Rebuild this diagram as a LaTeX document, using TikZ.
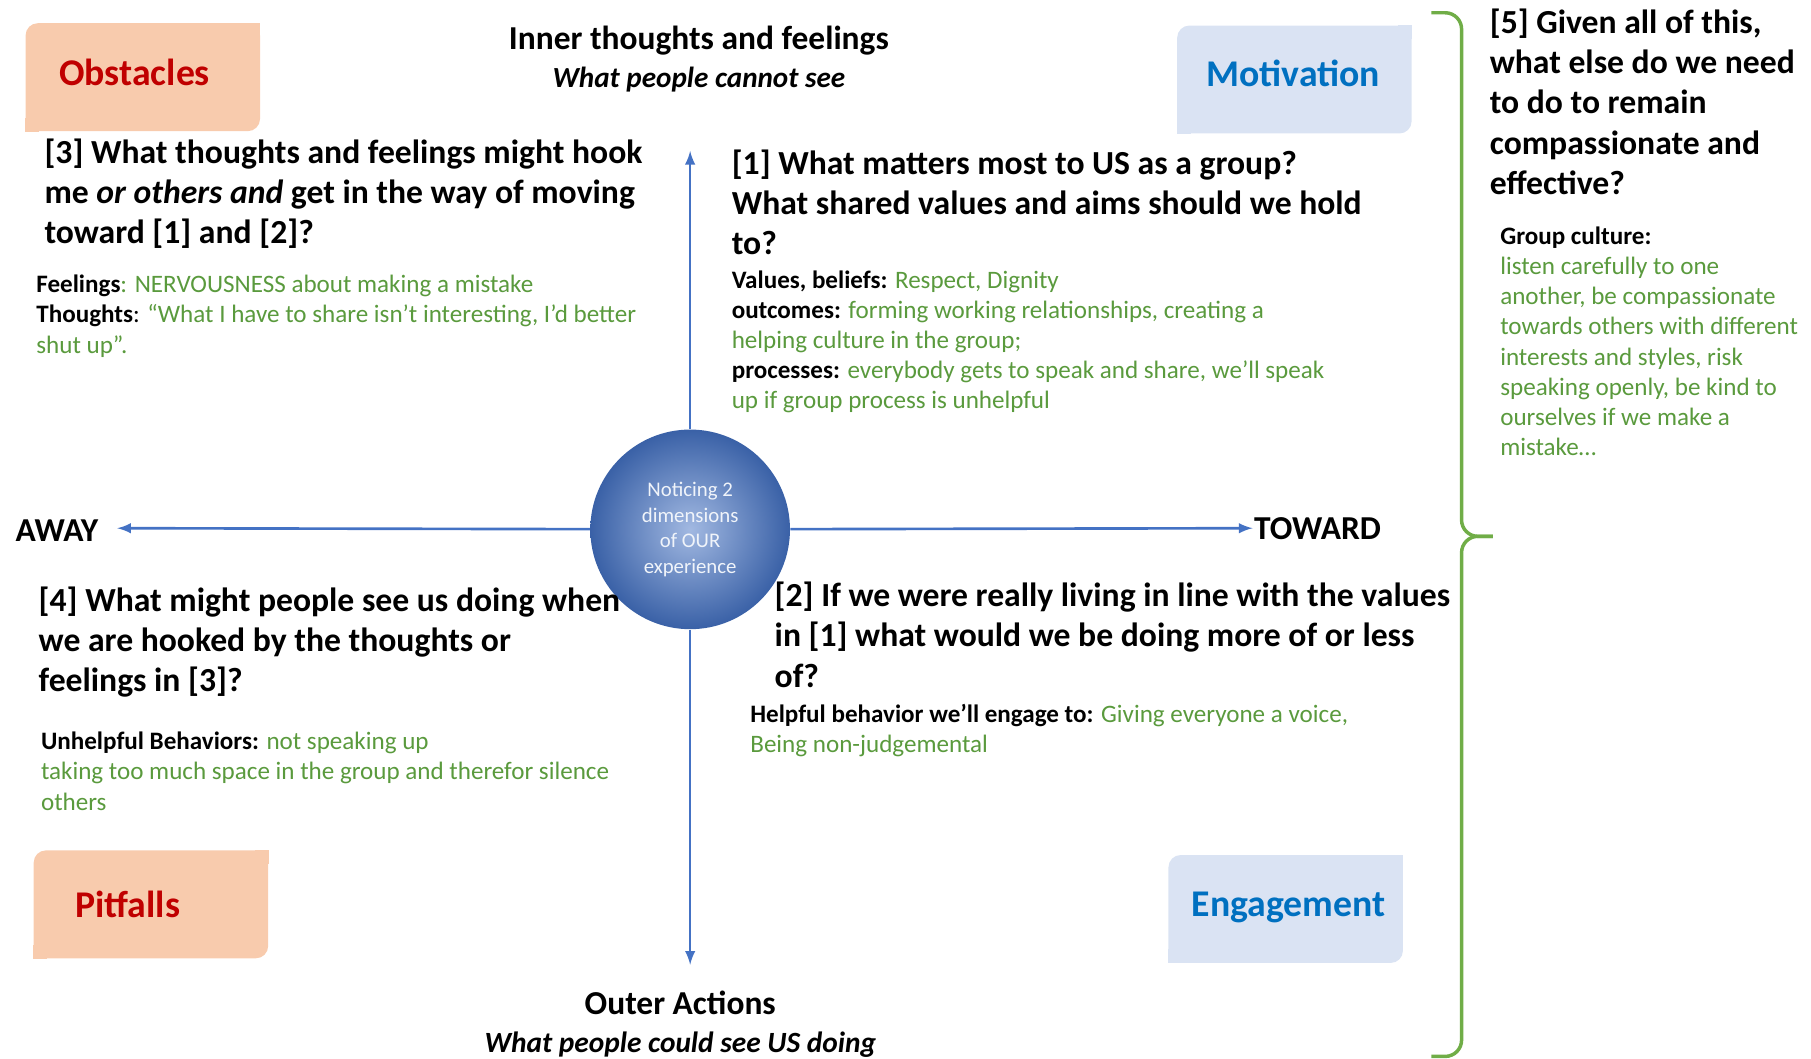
\documentclass[tikz,border=0pt]{standalone}
\usepackage{fontspec}
\setmainfont{Carlito}
\usepackage{tikz}

\definecolor{peach}{HTML}{F8CBAD}
\definecolor{paleblue}{HTML}{DAE3F3}
\definecolor{scarlet}{HTML}{C00000}
\definecolor{ink}{HTML}{0070C0}
\definecolor{axisblue}{HTML}{4472C4}
\definecolor{leaf}{HTML}{5A9A3D}
\definecolor{bracegreen}{HTML}{70AD47}
\newcommand{\gr}[1]{\textcolor{leaf}{#1}}

\begin{document}
\begin{tikzpicture}[x=0.02cm, y=-0.02cm,
  question/.style={anchor=north west, align=left, inner sep=0, font=\bfseries\fontsize{16.5}{19.8}\selectfont},
  answer/.style={anchor=north west, align=left, inner sep=0, font=\fontsize{12.3}{14.9}\selectfont},
  corner/.style={rounded corners=6pt, minimum width=4.04cm, minimum height=1.86cm, inner sep=0},
  tag/.style={inner sep=0, font=\bfseries\fontsize{18.5}{22}\selectfont},
  axis/.style={->, >=latex, axisblue, line width=1.3pt},
  title/.style={anchor=north, align=center, inner sep=0, font=\bfseries\fontsize{16.4}{18.7}\selectfont}]

\useasboundingbox (0,0) rectangle (1560,912);

% the four corner boxes
\node[corner, fill=peach] (obst) at (123,66.5) {};
\fill[peach] (obst.north east) rectangle ++(-12,12);
\fill[peach] (obst.south west) rectangle ++(12,-12);
\node[tag, text=scarlet] (obsttxt) at (116,62) {Obstacles};

\node[corner, fill=paleblue] (moti) at (1115,68.5) {};
\fill[paleblue] (moti.north east) rectangle ++(-12,12);
\fill[paleblue] (moti.south west) rectangle ++(12,-12);
\node[tag, text=ink] (motitxt) at (1114,63) {Motivation};

\node[corner, fill=peach] (pitf) at (130,779) {};
\fill[peach] (pitf.north east) rectangle ++(-12,12);
\fill[peach] (pitf.south west) rectangle ++(12,-12);
\node[tag, text=scarlet] (pitftxt) at (110,779) {Pitfalls};

\node[corner, fill=paleblue] (enga) at (1107.5,783) {};
\fill[paleblue] (enga.north east) rectangle ++(-12,12);
\fill[paleblue] (enga.south west) rectangle ++(12,-12);
\node[tag, text=ink] (engatxt) at (1110,782) {Engagement};

% axes
\node[circle, minimum size=3.44cm, inner sep=0, shading=radial, inner color=axisblue!50!white,
  outer color=axisblue!85!black, text=white!92!axisblue, align=center,
  font=\fontsize{10.2}{12.5}\selectfont] (hub) at (594.5,456) {Noticing 2\\dimensions\\of OUR\\experience};
\coordinate (up) at (594.5,130);
\coordinate (down) at (594.5,831);
\coordinate (left) at (101,455);
\coordinate (right) at (1079,455);
\draw[axis] (hub) -- (up);
\draw[axis] (hub) -- (down);
\draw[axis] (hub) -- (left);
\draw[axis] (hub) -- (right);
\node[anchor=east, inner sep=0, font=\bfseries\fontsize{16.4}{18}\selectfont] (away) at (85,457) {AWAY};
\node[anchor=west, inner sep=0, font=\bfseries\fontsize{16.4}{18}\selectfont] (toward) at (1080,455) {TOWARD};

\node[title] (inner) at (602,22) {Inner thoughts and feelings\\{\fontsize{14.3}{18.7}\selectfont\itshape What people cannot see}};
\node[title] (outer) at (586,853) {Outer Actions\\{\fontsize{14.4}{18.7}\selectfont\itshape What people could see US doing}};

% quadrant texts
\node[question] (q3) at (38,119) {[3] What thoughts and feelings might hook\\me \textit{or others and} get in the way of moving\\toward [1] and [2]?};
\node[answer] (feel) at (31,236.5) {\textbf{Feelings}\gr{: NERVOUSNESS about making a mistake}\\\textbf{Thoughts}: \gr{“What I have to share isn’t interesting, I’d better}\\\gr{shut up”.}};

\node[question] (q1) at (630,128.5) {[1] What matters most to US as a group?\\What shared values and aims should we hold\\to?};
\node[answer, font=\fontsize{12.3}{14.75}\selectfont] (vals) at (630,233) {\textbf{Values, beliefs:} \gr{Respect, Dignity}\\\textbf{outcomes:} \gr{forming working relationships, creating a}\\\gr{helping culture in the group;}\\\textbf{processes:} \gr{everybody gets to speak and share, we’ll speak}\\\gr{up if group process is unhelpful}};

\node[question] (q4) at (33,505) {[4] What might people see us doing when\\we are hooked by the thoughts or\\feelings in [3]?};
\node[answer] (unhelp) at (35,630) {\textbf{Unhelpful Behaviors:} \gr{not speaking up}\\\gr{taking too much space in the group and therefor silence}\\\gr{others}};

\node[question] (q2) at (667,501) {[2] If we were really living in line with the values\\in [1] what would we be doing more of or less\\of?};
\node[answer] (help) at (646,606) {\textbf{Helpful behavior we’ll engage to:} \gr{Giving everyone a voice,}\\\gr{Being non-judgemental}};

% brace and [5]
\draw[bracegreen, line width=1.7pt, rounded corners=8pt] (1233,11) -- (1259,11) -- (1259,462) -- (1286,462);
\draw[bracegreen, line width=1.7pt, rounded corners=8pt] (1286,462) -- (1259,462) -- (1259,910) -- (1233,910);
\node[question] (q5) at (1283,7) {[5] Given all of this,\\what else do we need\\to do to remain\\compassionate and\\effective?};
\node[answer, font=\fontsize{12.3}{14.8}\selectfont] (culture) at (1292,195) {\textbf{Group culture:}\\\gr{listen carefully to one}\\\gr{another, be compassionate}\\\gr{towards others with different}\\\gr{interests and styles, risk}\\\gr{speaking openly, be kind to}\\\gr{ourselves if we make a}\\\gr{mistake…}};
\end{tikzpicture}
\end{document}
